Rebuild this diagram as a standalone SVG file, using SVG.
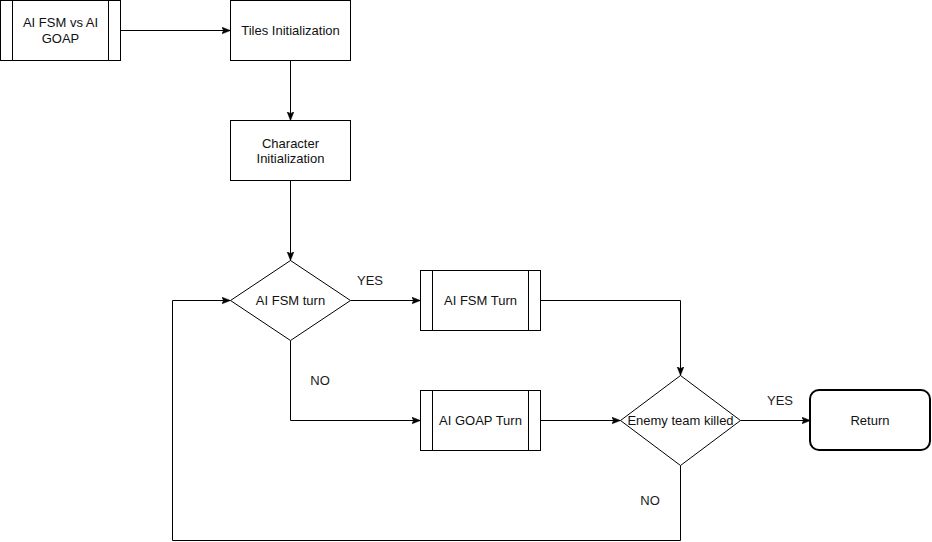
<svg xmlns="http://www.w3.org/2000/svg" width="932" height="542" viewBox="0 0 932 542">
  <style>
    .shape { fill: #ffffff; stroke: #000000; stroke-width: 1; }
    .bar { stroke: #000000; stroke-width: 1; fill: none; }
    .term { fill: #ffffff; stroke: #000000; stroke-width: 2; }
    .edge { fill: none; stroke: #000000; stroke-width: 1; }
    text { font-family: "Liberation Sans", Arial, Helvetica, sans-serif; font-size: 13px; fill: #111111; text-anchor: middle; dominant-baseline: central; }
    .lbl { fill: #1a1a1a; }
  </style>
  <defs>
    <marker id="arrow" markerUnits="userSpaceOnUse" markerWidth="10" markerHeight="8" refX="9" refY="3.5" orient="auto">
      <path d="M0,0 L9,3.5 L0,7 L2.2,3.5 Z" fill="#000000" stroke="#000000" stroke-width="0.5"/>
    </marker>
  </defs>

  <rect width="932" height="542" fill="#ffffff"/>

  <!-- connectors -->
  <g id="connectors">
    <path class="edge" d="M120.5,30.5 L230.5,30.5" marker-end="url(#arrow)"/>
    <path class="edge" d="M290.5,60.5 L290.5,120.5" marker-end="url(#arrow)"/>
    <path class="edge" d="M290.5,180.5 L290.5,260.5" marker-end="url(#arrow)"/>
    <path class="edge" d="M350.5,300.5 L420.5,300.5" marker-end="url(#arrow)"/>
    <path class="edge" d="M290.5,340.5 L290.5,420.5 L420.5,420.5" marker-end="url(#arrow)"/>
    <path class="edge" d="M540.5,300.5 L680.5,300.5 L680.5,375.5" marker-end="url(#arrow)"/>
    <path class="edge" d="M540.5,420.5 L620.5,420.5" marker-end="url(#arrow)"/>
    <path class="edge" d="M740.5,420.5 L810.5,420.5" marker-end="url(#arrow)"/>
    <path class="edge" d="M680.5,465.5 L680.5,540.5 L172.5,540.5 L172.5,300.5 L230.5,300.5" marker-end="url(#arrow)"/>
    <text class="lbl" x="370" y="280">YES</text>
    <text class="lbl" x="320" y="380">NO</text>
    <text class="lbl" x="780" y="400">YES</text>
    <text class="lbl" x="650" y="500">NO</text>
  </g>

  <!-- start subprocess -->
  <g id="start">
    <rect class="shape" x="0.5" y="0.5" width="120" height="60"/>
    <line class="bar" x1="12.5" y1="0.5" x2="12.5" y2="60.5"/>
    <line class="bar" x1="108.5" y1="0.5" x2="108.5" y2="60.5"/>
    <text x="60.5" y="22.5">AI FSM vs AI</text>
    <text x="60.5" y="38">GOAP</text>
  </g>

  <g id="tiles-init">
    <rect class="shape" x="230.5" y="0.5" width="120" height="60"/>
    <text x="290.5" y="30.5">Tiles Initialization</text>
  </g>

  <g id="character-init">
    <rect class="shape" x="230.5" y="120.5" width="120" height="60"/>
    <text x="290.5" y="143">Character</text>
    <text x="290.5" y="158">Initialization</text>
  </g>

  <g id="fsm-decision">
    <polygon class="shape" points="290.5,260.5 350.5,300.5 290.5,340.5 230.5,300.5"/>
    <text x="290.5" y="300.5">AI FSM turn</text>
  </g>

  <g id="fsm-turn">
    <rect class="shape" x="420.5" y="270.5" width="120" height="60"/>
    <line class="bar" x1="432.5" y1="270.5" x2="432.5" y2="330.5"/>
    <line class="bar" x1="528.5" y1="270.5" x2="528.5" y2="330.5"/>
    <text x="480.5" y="300.5">AI FSM Turn</text>
  </g>

  <g id="goap-turn">
    <rect class="shape" x="420.5" y="390.5" width="120" height="60"/>
    <line class="bar" x1="432.5" y1="390.5" x2="432.5" y2="450.5"/>
    <line class="bar" x1="528.5" y1="390.5" x2="528.5" y2="450.5"/>
    <text x="480.5" y="420.5">AI GOAP Turn</text>
  </g>

  <g id="enemy-decision">
    <polygon class="shape" points="680.5,375.5 740.5,420.5 680.5,465.5 620.5,420.5"/>
    <text x="680.5" y="420.5">Enemy team killed</text>
  </g>

  <g id="return">
    <rect class="term" x="810" y="390" width="120" height="60" rx="9" ry="9"/>
    <text x="870" y="420.5">Return</text>
  </g>
</svg>
